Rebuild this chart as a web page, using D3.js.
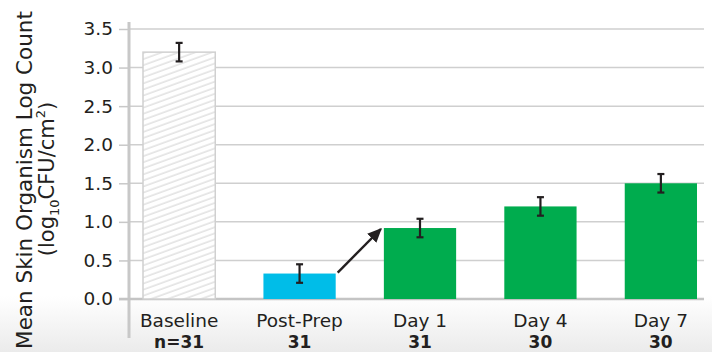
<!DOCTYPE html>
<html><head><meta charset="utf-8">
<script src="https://cdn.jsdelivr.net/npm/d3@7"></script>
<style>html,body{margin:0;padding:0;background:#fff;}svg{display:block;}</style>
</head><body>
<svg id="c" width="712" height="352"></svg>
<script>
const categories = ["Baseline", "Post-Prep", "Day 1", "Day 4", "Day 7"];
const nLabels = ["n=31", "31", "31", "30", "30"];
const means = [3.20, 0.33, 0.92, 1.20, 1.50];
const errors = [0.12, 0.12, 0.12, 0.12, 0.12];
const yTicks = [0, 0.5, 1.0, 1.5, 2.0, 2.5, 3.0, 3.5];

const svg = d3.select("#c");
const W = 712, H = 352;
const txt = "#231f20";
const font = "'DejaVu Sans', sans-serif";

const defs = svg.append("defs");
const lg = defs.append("linearGradient").attr("id","bg").attr("x1",0).attr("y1",0).attr("x2",0).attr("y2",1);
lg.append("stop").attr("offset","0%").attr("stop-color","#ffffff");
lg.append("stop").attr("offset","100%").attr("stop-color","#ebebeb");
svg.append("rect").attr("x",0).attr("y",296).attr("width",W).attr("height",H-296).attr("fill","url(#bg)");

const pat = defs.append("pattern").attr("id","hatch").attr("patternUnits","userSpaceOnUse")
  .attr("width",10).attr("height",5.7).attr("patternTransform","rotate(-20)");
pat.append("rect").attr("width",10).attr("height",5.7).attr("fill","#fff");
pat.append("line").attr("x1",0).attr("x2",10).attr("y1",2).attr("y2",2)
  .attr("stroke","#d6d6d6").attr("stroke-width",1.1);

const m = {left:129, right:704, top:29, bottom:299};
const y = d3.scaleLinear().domain([0,3.5]).range([m.bottom, m.top]);
const x = d3.scaleBand().domain(categories).range([143, 697]).paddingInner(0.4).paddingOuter(0);

// gridlines
svg.append("g").selectAll("line").data(yTicks.filter(d=>d>0)).join("line")
  .attr("x1",m.left).attr("x2",m.right).attr("y1",d=>y(d)).attr("y2",d=>y(d))
  .attr("stroke","#cfcfcf").attr("stroke-width",1.5);

// y axis
const ya = svg.append("g").attr("transform",`translate(${m.left},0)`)
  .call(d3.axisLeft(y).tickValues(yTicks).tickFormat(d3.format(".1f")).tickSize(10).tickPadding(6));
ya.select(".domain").remove();
ya.selectAll(".tick line").attr("stroke","#c8c8c8").attr("stroke-width",1.5);
ya.selectAll(".tick text").attr("fill",txt).attr("font-family",font).attr("font-size",18.5);

// axis lines
svg.append("line").attr("x1",m.left).attr("x2",m.left).attr("y1",22).attr("y2",338)
  .attr("stroke","#c8c8c8").attr("stroke-width",3);
svg.append("line").attr("x1",m.left-10).attr("x2",m.right).attr("y1",y(0)).attr("y2",y(0))
  .attr("stroke","#c4c4c4").attr("stroke-width",2.5);

// bars
const fills = ["url(#hatch)", "#00bde8", "#00ac4e", "#00ac4e", "#00ac4e"];
svg.append("g").selectAll("rect").data(categories).join("rect")
  .attr("x",d=>x(d)).attr("width",x.bandwidth())
  .attr("y",(d,i)=>y(means[i])).attr("height",(d,i)=>y(0)-y(means[i]))
  .attr("fill",(d,i)=>fills[i])
  .attr("stroke",(d,i)=>i===0?"#d0d0d0":"none").attr("stroke-width",1.5);

// error bars
const eb = svg.append("g").attr("stroke",txt).attr("stroke-width",2.2);
categories.forEach((c,i)=>{
  const cx = x(c)+x.bandwidth()/2;
  const t = y(means[i]+errors[i]), b = y(means[i]-errors[i]);
  eb.append("line").attr("x1",cx).attr("x2",cx).attr("y1",t).attr("y2",b);
  eb.append("line").attr("x1",cx-3.5).attr("x2",cx+3.5).attr("y1",t).attr("y2",t);
  eb.append("line").attr("x1",cx-3.5).attr("x2",cx+3.5).attr("y1",b).attr("y2",b);
});

// arrow from Post-Prep to Day 1
defs.append("marker").attr("id","ah").attr("viewBox","0 0 10 10").attr("refX",9).attr("refY",5)
  .attr("markerWidth",6).attr("markerHeight",6).attr("markerUnits","strokeWidth").attr("orient","auto")
  .append("path").attr("d","M0,0.5 L10,5 L0,9.5 Z").attr("fill",txt);
const x1 = x("Post-Prep")+x.bandwidth()+2, y1 = y(means[1])-1;
const x2 = x("Day 1")-3, y2 = y(means[2])+1;
svg.append("line").attr("x1",x1).attr("y1",y1).attr("x2",x2).attr("y2",y2)
  .attr("stroke",txt).attr("stroke-width",2.4).attr("marker-end","url(#ah)");

// category labels
const cl = svg.append("g").attr("font-family",font).attr("fill",txt).attr("text-anchor","middle");
categories.forEach((c,i)=>{
  const cx = x(c)+x.bandwidth()/2;
  cl.append("text").attr("x",cx).attr("y",327).attr("font-size",18.5).text(c);
  cl.append("text").attr("x",cx).attr("y",348).attr("font-size",17).attr("font-weight","bold").text(nLabels[i]);
});

// y title
const yt = svg.append("g").attr("font-family",font).attr("fill",txt).attr("text-anchor","middle");
yt.append("text").attr("font-size",21.5).attr("transform","translate(32,180) rotate(-90)").text("Mean Skin Organism Log Count");
const t2 = yt.append("text").attr("font-size",21).attr("transform","translate(54,179) rotate(-90)");
t2.append("tspan").text("(log");
t2.append("tspan").attr("font-size",13).attr("dy",5).text("10");
t2.append("tspan").attr("dy",-5).text("CFU/cm");
t2.append("tspan").attr("font-size",13).attr("dy",-9).text("2");
t2.append("tspan").attr("dy",9).text(")");
</script>
</body></html>
